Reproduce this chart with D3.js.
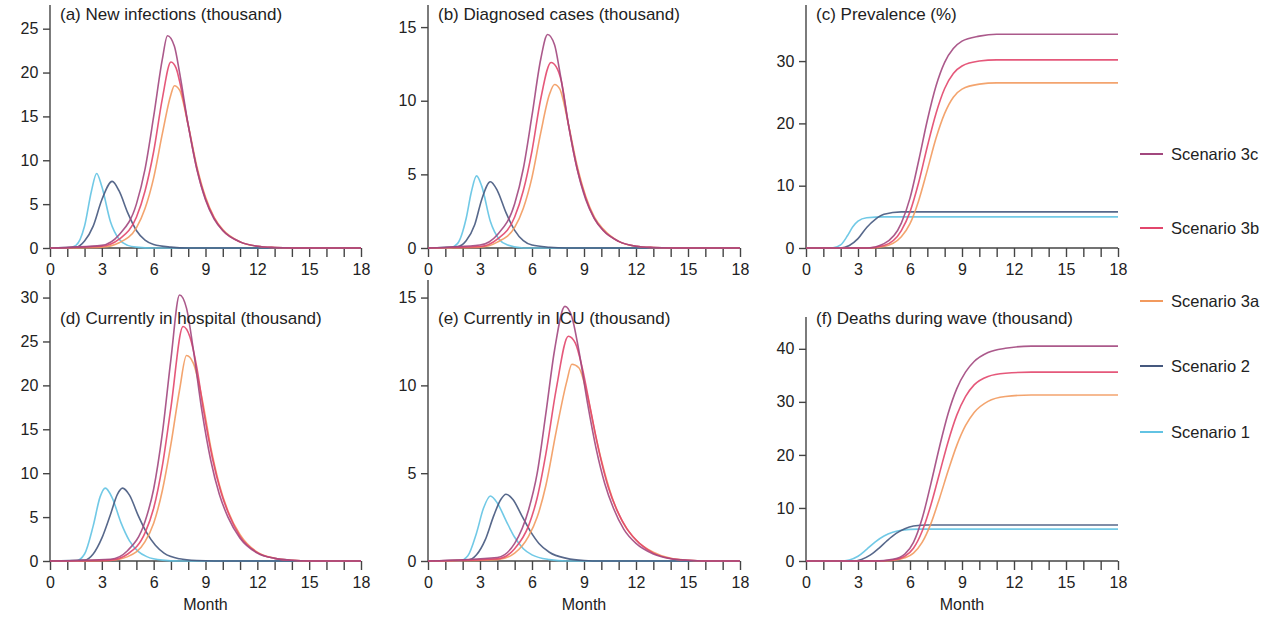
<!DOCTYPE html>
<html><head><meta charset="utf-8">
<script src="https://cdn.jsdelivr.net/npm/d3@7"></script>
<style>body{margin:0;background:#fff}svg text{font-family:"Liberation Sans",Arial,sans-serif;fill:#222}</style>
</head><body><svg id="c" width="1280" height="625"></svg>
<script>
const months = [0,3,6,9,12,15,18];
const scenarios = ["Scenario 3c","Scenario 3b","Scenario 3a","Scenario 2","Scenario 1"];
const colors = ["#a2477e","#e2466c","#f29a5e","#45587e","#62c3e3"];
// panel (a) new infections [month, thousand]
const aS1=[[0,0],[1,0],[1.5,0.3],[2,2.5],[2.4,6.5],[2.7,8.5],[3,7],[3.5,3],[4,1],[4.5,0.3],[5,0.1],[6,0],[18,0]];
const aS2=[[0,0],[1.5,0.1],[2,0.8],[2.5,2.5],[3,5.5],[3.6,7.6],[4,6.5],[4.5,4],[5,2],[5.5,0.9],[6,0.4],[7,0.1],[8,0],[18,0]];
const a3c=[[0,0],[3,0.3],[4,1.5],[5,5],[5.5,9],[6,15],[6.5,21.5],[6.8,24.2],[7.2,23],[7.5,20],[8,14],[8.5,9],[9,5.5],[9.5,3.3],[10,2],[11,0.7],[12,0.2],[13,0.05],[14,0],[18,0]];
const a3b=[[0,0],[3,0.2],[4,1],[5,3.5],[5.5,6.5],[6,11],[6.5,17],[7,21.2],[7.3,20.5],[7.5,19],[8,14],[8.5,9],[9,5.6],[9.5,3.4],[10,2],[11,0.7],[12,0.2],[13,0.05],[14,0],[18,0]];
const a3a=[[0,0],[3,0.1],[4,0.6],[5,2.3],[5.5,4.5],[6,8],[6.5,13],[7,17.5],[7.2,18.5],[7.5,18],[8,14],[8.5,9.3],[9,5.8],[9.5,3.5],[10,2.1],[11,0.7],[12,0.2],[13,0.05],[14,0],[18,0]];
// panel (b) diagnosed cases
const bS1=[[0,0],[1.2,0],[1.7,0.3],[2.2,2],[2.5,3.8],[2.8,4.9],[3.1,4.2],[3.6,1.8],[4.1,0.6],[4.6,0.2],[5.5,0],[18,0]];
const bS2=[[0,0],[1.7,0.1],[2.2,0.5],[2.7,1.6],[3.1,3.3],[3.6,4.5],[4,3.9],[4.5,2.4],[5,1.2],[5.5,0.5],[6,0.2],[7,0.05],[8,0],[18,0]];
const b3c=[[0,0],[3,0.2],[4,0.9],[5,3],[5.5,5.4],[6,9],[6.5,12.8],[6.9,14.5],[7.3,13.8],[7.6,12],[8.1,8.4],[8.6,5.4],[9.1,3.3],[9.6,2],[10.1,1.2],[11,0.45],[12,0.12],[13,0.03],[14,0],[18,0]];
const b3b=[[0,0],[3,0.1],[4,0.6],[5,2.1],[5.5,3.9],[6,6.6],[6.5,10.1],[7.1,12.6],[7.4,12.3],[7.7,11.3],[8.1,8.4],[8.6,5.4],[9.1,3.4],[9.6,2],[10.1,1.2],[11,0.45],[12,0.12],[13,0.03],[14,0],[18,0]];
const b3a=[[0,0],[3,0.06],[4,0.4],[5,1.4],[5.5,2.7],[6,4.8],[6.5,7.8],[7,10.4],[7.3,11.1],[7.6,10.8],[8.1,8.4],[8.6,5.6],[9.1,3.5],[9.6,2.1],[10.1,1.3],[11,0.45],[12,0.12],[13,0.03],[14,0],[18,0]];
// panel (c) prevalence %
const cS1=[[0,0],[1.5,0],[2,0.5],[2.4,2],[2.7,3.4],[3,4.3],[3.5,4.85],[4.5,5],[18,5]];
const cS2=[[0,0],[2,0],[2.5,0.4],[3,1.5],[3.5,3.3],[4,4.6],[4.5,5.4],[5.5,5.8],[18,5.8]];
const c3c=[[0,0],[3.5,0],[4.5,0.7],[5.5,4],[6,8],[6.5,14],[7,20.5],[7.5,26],[8,29.8],[8.5,32],[9,33.2],[10,34],[11,34.3],[18,34.3]];
const c3b=[[0,0],[3.5,0],[4.5,0.4],[5.5,2.8],[6,5.8],[6.5,10.5],[7,16.3],[7.5,21.6],[8,25.6],[8.5,28],[9,29.2],[10,30],[11,30.2],[18,30.2]];
const c3a=[[0,0],[3.5,0],[4.5,0.25],[5.5,1.8],[6,3.9],[6.5,7.6],[7,12.5],[7.5,17.6],[8,21.6],[8.5,24.2],[9,25.5],[10,26.3],[11,26.5],[18,26.5]];
// panel (d) in hospital
const dS1=[[0,0],[1.5,0],[2,0.8],[2.5,4],[2.9,7.3],[3.2,8.3],[3.6,7.2],[4.1,4.4],[4.6,2.3],[5.1,1.1],[5.6,0.5],[6.5,0.1],[7.5,0],[18,0]];
const dS2=[[0,0],[2,0.1],[2.5,0.8],[3,2.6],[3.5,5.3],[3.9,7.6],[4.2,8.3],[4.6,7.5],[5.1,5.2],[5.6,3.2],[6.1,1.8],[6.6,0.9],[7.5,0.25],[8.5,0.05],[9.5,0],[18,0]];
const d3c=[[0,0],[3.5,0.2],[4.5,1.2],[5.5,4.5],[6,8.2],[6.5,14.5],[7,23],[7.5,30.3],[7.9,28.8],[8.3,24],[8.8,17],[9.3,11.5],[9.8,7.6],[10.3,5],[11,2.6],[12,0.9],[13,0.3],[14,0.08],[15,0],[18,0]];
const d3b=[[0,0],[3.5,0.1],[4.5,0.8],[5.5,3.2],[6,6],[6.5,10.8],[7,17.5],[7.7,26.7],[8.1,25.5],[8.5,22],[8.9,17],[9.4,11.7],[9.9,7.8],[10.4,5.1],[11,2.8],[12,0.95],[13,0.3],[14,0.08],[15,0],[18,0]];
const d3a=[[0,0],[3.5,0.07],[4.5,0.5],[5.5,2.2],[6,4.3],[6.5,8],[7,13.3],[7.5,19.5],[7.9,23.4],[8.3,22.5],[8.8,18.5],[9.3,13],[9.8,8.7],[10.3,5.7],[11,3],[12,1],[13,0.32],[14,0.08],[15,0],[18,0]];
// panel (e) in ICU
const eS1=[[0,0],[1.8,0],[2.3,0.3],[2.8,1.6],[3.2,3],[3.6,3.7],[4,3.3],[4.5,2.3],[5,1.35],[5.5,0.7],[6,0.35],[7,0.08],[8,0],[18,0]];
const eS2=[[0,0],[2.3,0.05],[2.8,0.35],[3.3,1.2],[3.8,2.6],[4.2,3.5],[4.5,3.8],[4.9,3.5],[5.4,2.6],[5.9,1.7],[6.4,1],[7,0.5],[8,0.15],[9,0.03],[10,0],[18,0]];
const e3c=[[0,0],[4,0.2],[5,1],[5.8,2.9],[6.3,5],[6.8,8.4],[7.3,12],[7.9,14.5],[8.3,13.9],[8.7,12],[9.2,9],[9.7,6.4],[10.2,4.4],[10.7,3],[11.3,1.8],[12,1],[13,0.4],[14,0.13],[15,0.04],[16,0],[18,0]];
const e3b=[[0,0],[4,0.12],[5,0.7],[5.8,2],[6.3,3.6],[6.8,6.1],[7.4,9.8],[8.1,12.8],[8.5,12.4],[8.9,11],[9.4,8.5],[9.9,6.1],[10.4,4.2],[10.9,2.9],[11.5,1.8],[12.2,1],[13,0.45],[14,0.14],[15,0.04],[16,0],[18,0]];
const e3a=[[0,0],[4,0.08],[5,0.45],[5.8,1.4],[6.3,2.5],[6.8,4.3],[7.4,7.4],[8,10.2],[8.3,11.2],[8.7,11],[9.2,9.4],[9.7,7],[10.2,5],[10.7,3.4],[11.3,2.1],[12,1.2],[13,0.5],[14,0.15],[15,0.04],[16,0],[18,0]];
// panel (f) deaths during wave
const fS1=[[0,0],[2,0],[2.5,0.2],[3,0.9],[3.5,2.2],[4,3.6],[4.5,4.7],[5,5.4],[5.5,5.8],[6.5,6],[18,6]];
const fS2=[[0,0],[2.7,0],[3.2,0.3],[3.7,1.1],[4.2,2.4],[4.7,3.9],[5.2,5.2],[5.7,6.1],[6.2,6.6],[7,6.8],[18,6.8]];
const f3c=[[0,0],[4,0],[5,0.3],[5.7,1.3],[6.2,3.5],[6.7,8],[7.2,14.5],[7.7,21.5],[8.2,27.8],[8.7,32.5],[9.2,35.6],[9.7,37.6],[10.5,39.3],[11.5,40.1],[13,40.5],[18,40.5]];
const f3b=[[0,0],[4,0],[5,0.2],[5.7,0.9],[6.2,2.4],[6.7,5.6],[7.2,10.5],[7.7,16.5],[8.2,22.5],[8.7,27.5],[9.2,31],[9.7,33.2],[10.5,34.8],[11.5,35.4],[13,35.6],[18,35.6]];
const f3a=[[0,0],[4,0],[5,0.1],[5.7,0.6],[6.2,1.5],[6.7,3.5],[7.2,7],[7.7,11.8],[8.2,17],[8.7,21.8],[9.2,25.5],[9.7,28],[10.5,30.1],[11.5,31],[13,31.3],[18,31.3]];

const panels = [
 {title:"(a) New infections (thousand)", yTicks:[0,5,10,15,20,25], yMax:27.7, x0:50,x1:361,yTop:5,yBot:248, series:[a3c,a3b,a3a,aS2,aS1]},
 {title:"(b) Diagnosed cases (thousand)", yTicks:[0,5,10,15], yMax:16.5, x0:428,x1:740,yTop:5,yBot:248, series:[b3c,b3b,b3a,bS2,bS1]},
 {title:"(c) Prevalence (%)", yTicks:[0,10,20,30], yMax:39, x0:806,x1:1118,yTop:5,yBot:248, series:[c3c,c3b,c3a,cS2,cS1]},
 {title:"(d) Currently in hospital (thousand)", yTicks:[0,5,10,15,20,25,30], yMax:32, x0:50,x1:361,yTop:280,yBot:561, series:[d3c,d3b,d3a,dS2,dS1], month:true},
 {title:"(e) Currently in ICU (thousand)", yTicks:[0,5,10,15], yMax:16, x0:428,x1:740,yTop:280,yBot:561, series:[e3c,e3b,e3a,eS2,eS1], month:true},
 {title:"(f) Deaths during wave (thousand)", yTicks:[0,10,20,30,40], yMax:46, x0:806,x1:1118,yTop:317,yBot:561, series:[f3c,f3b,f3a,fS2,fS1], month:true}
];
const svg = d3.select("#c");
const axisCol="#444";
panels.forEach(p=>{
  const x=d3.scaleLinear().domain([0,18]).range([p.x0,p.x1]);
  const y=d3.scaleLinear().domain([0,p.yMax]).range([p.yBot,p.yTop]);
  const g=svg.append("g");
  const xa=d3.axisBottom(x).tickValues(d3.range(0,19)).tickSize(9).tickFormat(d=>months.includes(d)?d:"");
  const gx=g.append("g").attr("transform",`translate(0,${p.yBot})`).call(xa);
  gx.select(".domain").attr("d",`M${p.x0},0H${p.x1}`);
  const ya=d3.axisLeft(y).tickValues(p.yTicks).tickSize(7);
  const gy=g.append("g").attr("transform",`translate(${p.x0},0)`).call(ya);
  gy.select(".domain").attr("d",`M0,${p.yTop}V${p.yBot}`);
  [gx,gy].forEach(a=>{a.selectAll("path,line").attr("stroke",axisCol).attr("stroke-width",1.4);
    a.selectAll("text").attr("font-size",16).attr("fill","#222").style("font-family","Liberation Sans, Arial, sans-serif");});
  gx.selectAll("text").attr("dy","0.95em");
  gy.selectAll("text").attr("dx","-0.1em");
  const line=d3.line().x(d=>x(d[0])).y(d=>y(d[1])).curve(d3.curveMonotoneX);
  const order=[4,3,2,1,0];
  order.forEach(i=>{
    g.append("path").datum(p.series[i]).attr("d",line).attr("fill","none")
     .attr("stroke",colors[i]).attr("stroke-width",1.6).attr("stroke-opacity",0.9);
  });
  g.append("text").attr("x",p.x0+10).attr("y",(p.month? p.yBot-237 : 20)).attr("font-size",17).text(p.title);
  if(p.month) g.append("text").attr("x",(p.x0+p.x1)/2).attr("y",610).attr("text-anchor","middle").attr("font-size",16).text("Month");
});
const legY=[154,228,301,366,432];
scenarios.forEach((s,i)=>{
  svg.append("line").attr("x1",1140).attr("x2",1163).attr("y1",legY[i]).attr("y2",legY[i]).attr("stroke",colors[i]).attr("stroke-width",2);
  svg.append("text").attr("x",1171).attr("y",legY[i]).attr("dy","0.35em").attr("font-size",16.5).text(s);
});
</script></body></html>
